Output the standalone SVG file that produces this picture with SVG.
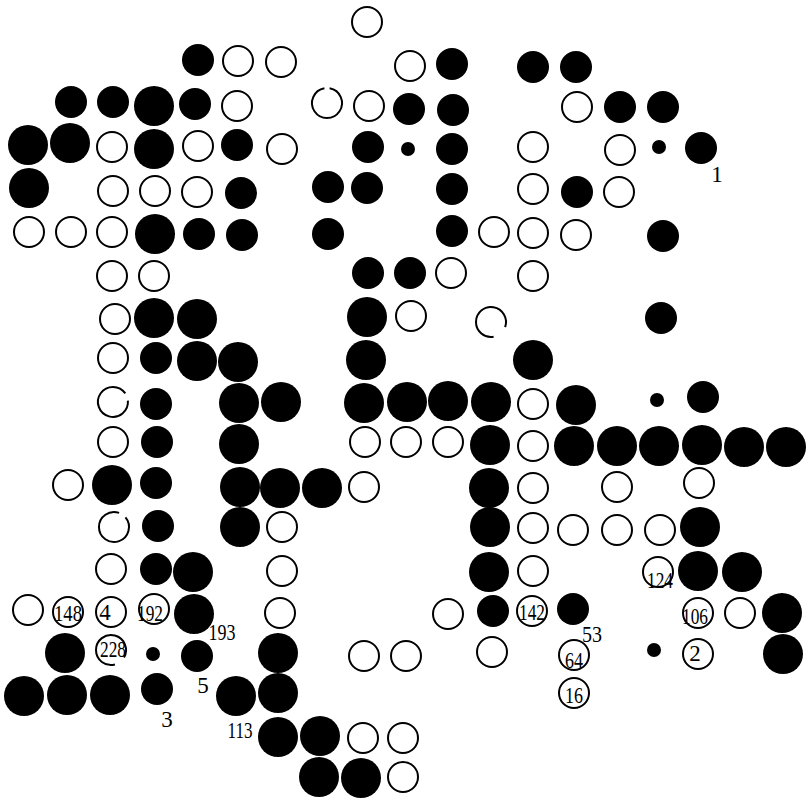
<svg xmlns="http://www.w3.org/2000/svg" width="811" height="800" viewBox="0 0 811 800">
<style>
.w{fill:#fff;stroke:#000;stroke-width:2}
.a{fill:none;stroke:#000;stroke-width:2}
.b{fill:#000}
.t{font-family:"Liberation Serif",serif;font-size:23px;fill:#000;text-anchor:middle}
</style>
<rect width="811" height="800" fill="#fff"/>
<g id="white-stones">
<circle class="w" cx="367" cy="22" r="15"/>
<circle class="w" cx="238" cy="61" r="15"/><circle class="w" cx="281" cy="62" r="15"/><circle class="w" cx="410" cy="66" r="15"/>
<circle class="w" cx="237" cy="106" r="15"/><circle class="w" cx="369" cy="106" r="15"/><circle class="w" cx="577" cy="107" r="15"/>
<path class="a" d="M329.6 88.2 A15 15 0 1 1 324.4 88.2"/>
<circle class="w" cx="112" cy="147" r="15"/><circle class="w" cx="198" cy="146" r="15"/><circle class="w" cx="282" cy="149" r="15"/><circle class="w" cx="533" cy="147" r="15"/><circle class="w" cx="620" cy="150" r="15"/>
<circle class="w" cx="113" cy="191" r="15"/><circle class="w" cx="155" cy="191" r="15"/><circle class="w" cx="197" cy="192" r="15"/><circle class="w" cx="533" cy="189" r="15"/><circle class="w" cx="619" cy="192" r="15"/>
<circle class="w" cx="29" cy="232" r="15"/><circle class="w" cx="71" cy="232" r="15"/><circle class="w" cx="112" cy="232" r="15"/><circle class="w" cx="494" cy="232" r="15"/><circle class="w" cx="533" cy="233" r="15"/><circle class="w" cx="576" cy="235" r="15"/>
<circle class="w" cx="112" cy="276" r="15"/><circle class="w" cx="154" cy="276" r="15"/><circle class="w" cx="451" cy="273" r="15"/><circle class="w" cx="533" cy="276" r="15"/>
<circle class="w" cx="115" cy="319" r="15"/><circle class="w" cx="411" cy="316" r="15"/>
<path class="a" d="M493.6 336.8 A15 15 0 1 1 505.1 327.1"/>
<circle class="w" cx="113" cy="358" r="15"/>
<path class="a" d="M127.9 400.7 A15 15 0 1 1 125.3 393.4"/>
<circle class="w" cx="533" cy="404" r="15"/>
<circle class="w" cx="113" cy="442" r="15"/><circle class="w" cx="365" cy="442" r="15"/><circle class="w" cx="406" cy="442" r="15"/><circle class="w" cx="448" cy="442" r="15"/><circle class="w" cx="533" cy="446" r="15"/>
<circle class="w" cx="68" cy="485" r="15"/><circle class="w" cx="364" cy="487" r="15"/><circle class="w" cx="533" cy="488" r="15"/><circle class="w" cx="617" cy="487" r="15"/><circle class="w" cx="699" cy="483" r="15"/>
<path class="a" d="M125.5 517.4 A15 15 0 1 1 119.1 512.9"/>
<circle class="w" cx="282" cy="527" r="15"/><circle class="w" cx="533" cy="528" r="15"/><circle class="w" cx="573" cy="530" r="15"/><circle class="w" cx="617" cy="530" r="15"/><circle class="w" cx="660" cy="530" r="15"/>
<circle class="w" cx="111" cy="569" r="15"/><circle class="w" cx="282" cy="571" r="15"/><circle class="w" cx="533" cy="571" r="15"/><circle class="w" cx="658" cy="572" r="15"/>
<circle class="w" cx="28" cy="610" r="15"/><circle class="w" cx="68" cy="612" r="15"/><circle class="w" cx="111" cy="612" r="15"/><circle class="w" cx="154" cy="609" r="15"/><circle class="w" cx="280" cy="613" r="15"/><circle class="w" cx="448" cy="614" r="15"/><circle class="w" cx="532" cy="611" r="15"/><circle class="w" cx="698" cy="613" r="15"/><circle class="w" cx="740" cy="613" r="15"/>
<path class="a" d="M114.9 664.5 A15 15 0 1 1 124.0 657.5"/>
<circle class="w" cx="364" cy="656" r="15"/><circle class="w" cx="406" cy="656" r="15"/><circle class="w" cx="492" cy="652" r="15"/><circle class="w" cx="574" cy="655" r="15"/><circle class="w" cx="698" cy="654" r="15"/>
<circle class="w" cx="574" cy="693" r="15"/>
<circle class="w" cx="363" cy="738" r="15"/><circle class="w" cx="403" cy="738" r="15"/>
<circle class="w" cx="403" cy="777" r="15"/>
</g>
<g id="black-stones">
<circle class="b" cx="198" cy="60" r="16"/><circle class="b" cx="452" cy="64" r="16"/><circle class="b" cx="533" cy="67" r="16"/><circle class="b" cx="576" cy="67" r="16"/>
<circle class="b" cx="71" cy="102" r="16"/><circle class="b" cx="113" cy="102" r="16"/><circle class="b" cx="195" cy="104" r="16"/><circle class="b" cx="409" cy="109" r="16"/><circle class="b" cx="453" cy="110" r="16"/><circle class="b" cx="620" cy="107" r="16"/><circle class="b" cx="663" cy="107" r="16"/>
<circle class="b" cx="237" cy="145" r="16"/><circle class="b" cx="368" cy="147" r="16"/><circle class="b" cx="452" cy="149" r="16"/><circle class="b" cx="701" cy="148" r="16"/>
<circle class="b" cx="241" cy="193" r="16"/><circle class="b" cx="328" cy="187" r="16"/><circle class="b" cx="367" cy="188" r="16"/><circle class="b" cx="452" cy="189" r="16"/><circle class="b" cx="577" cy="192" r="16"/>
<circle class="b" cx="199" cy="234" r="16"/><circle class="b" cx="242" cy="235" r="16"/><circle class="b" cx="328" cy="234" r="16"/><circle class="b" cx="452" cy="231" r="16"/><circle class="b" cx="663" cy="236" r="16"/>
<circle class="b" cx="368" cy="273" r="16"/><circle class="b" cx="410" cy="273" r="16"/>
<circle class="b" cx="661" cy="318" r="16"/>
<circle class="b" cx="156" cy="358" r="16"/>
<circle class="b" cx="156" cy="404" r="16"/><circle class="b" cx="703" cy="397" r="16"/>
<circle class="b" cx="157" cy="442" r="16"/>
<circle class="b" cx="156" cy="483" r="16"/>
<circle class="b" cx="158" cy="526" r="16"/>
<circle class="b" cx="156" cy="569" r="16"/>
<circle class="b" cx="493" cy="611" r="16"/><circle class="b" cx="573" cy="609" r="16"/>
<circle class="b" cx="197" cy="656" r="16"/>
<circle class="b" cx="157" cy="689" r="16"/>
<circle class="b" cx="154" cy="106" r="20"/>
<circle class="b" cx="28" cy="145" r="20"/><circle class="b" cx="70" cy="143" r="20"/><circle class="b" cx="154" cy="149" r="20"/>
<circle class="b" cx="29" cy="188" r="20"/>
<circle class="b" cx="155" cy="234" r="20"/>
<circle class="b" cx="154" cy="318" r="20"/><circle class="b" cx="197" cy="319" r="20"/><circle class="b" cx="367" cy="317" r="20"/>
<circle class="b" cx="197" cy="361" r="20"/><circle class="b" cx="238" cy="362" r="20"/><circle class="b" cx="366" cy="360" r="20"/><circle class="b" cx="533" cy="360" r="20"/>
<circle class="b" cx="239" cy="403" r="20"/><circle class="b" cx="281" cy="402" r="20"/><circle class="b" cx="364" cy="403" r="20"/><circle class="b" cx="407" cy="402" r="20"/><circle class="b" cx="448" cy="401" r="20"/><circle class="b" cx="491" cy="402" r="20"/><circle class="b" cx="576" cy="405" r="20"/>
<circle class="b" cx="239" cy="444" r="20"/><circle class="b" cx="490" cy="445" r="20"/><circle class="b" cx="574" cy="446" r="20"/><circle class="b" cx="617" cy="446" r="20"/><circle class="b" cx="659" cy="446" r="20"/><circle class="b" cx="702" cy="445" r="20"/><circle class="b" cx="744" cy="447" r="20"/><circle class="b" cx="786" cy="447" r="20"/>
<circle class="b" cx="112" cy="485" r="20"/><circle class="b" cx="240" cy="487" r="20"/><circle class="b" cx="280" cy="488" r="20"/><circle class="b" cx="322" cy="488" r="20"/><circle class="b" cx="489" cy="488" r="20"/>
<circle class="b" cx="240" cy="527" r="20"/><circle class="b" cx="490" cy="527" r="20"/><circle class="b" cx="700" cy="527" r="20"/>
<circle class="b" cx="193" cy="572" r="20"/><circle class="b" cx="489" cy="572" r="20"/><circle class="b" cx="698" cy="571" r="20"/><circle class="b" cx="742" cy="572" r="20"/>
<circle class="b" cx="194" cy="614" r="20"/><circle class="b" cx="782" cy="613" r="20"/>
<circle class="b" cx="65" cy="653" r="20"/><circle class="b" cx="278" cy="653" r="20"/><circle class="b" cx="783" cy="654" r="20"/>
<circle class="b" cx="24" cy="696" r="20"/><circle class="b" cx="67" cy="695" r="20"/><circle class="b" cx="110" cy="695" r="20"/><circle class="b" cx="236" cy="696" r="20"/><circle class="b" cx="278" cy="693" r="20"/>
<circle class="b" cx="278" cy="737" r="20"/><circle class="b" cx="320" cy="736" r="20"/>
<circle class="b" cx="319" cy="777" r="20"/><circle class="b" cx="361" cy="778" r="20"/>
</g>
<g id="dots">
<circle class="b" cx="408" cy="149" r="7"/><circle class="b" cx="659" cy="147" r="7"/><circle class="b" cx="657" cy="400" r="7"/><circle class="b" cx="153" cy="654" r="7"/><circle class="b" cx="654" cy="650" r="7"/>
</g>
<g id="labels">
<text class="t" x="717" y="182">1</text>
<text class="t" x="222" y="640" textLength="27" lengthAdjust="spacingAndGlyphs">193</text>
<text class="t" x="203" y="693">5</text>
<text class="t" x="167" y="727">3</text>
<text class="t" x="240" y="738" textLength="25" lengthAdjust="spacingAndGlyphs">113</text>
<text class="t" x="592" y="642" textLength="20" lengthAdjust="spacingAndGlyphs">53</text>
<text class="t" x="68" y="621" textLength="28" lengthAdjust="spacingAndGlyphs">148</text>
<text class="t" x="105" y="620">4</text>
<text class="t" x="150" y="621" textLength="26" lengthAdjust="spacingAndGlyphs">192</text>
<text class="t" x="113" y="657" textLength="26" lengthAdjust="spacingAndGlyphs">228</text>
<text class="t" x="532" y="620" textLength="26" lengthAdjust="spacingAndGlyphs">142</text>
<text class="t" x="660" y="588" textLength="26" lengthAdjust="spacingAndGlyphs">124</text>
<text class="t" x="695" y="624" textLength="26" lengthAdjust="spacingAndGlyphs">106</text>
<text class="t" x="695" y="661">2</text>
<text class="t" x="574" y="668" textLength="18" lengthAdjust="spacingAndGlyphs">64</text>
<text class="t" x="574" y="703" textLength="18" lengthAdjust="spacingAndGlyphs">16</text>
</g>
</svg>
